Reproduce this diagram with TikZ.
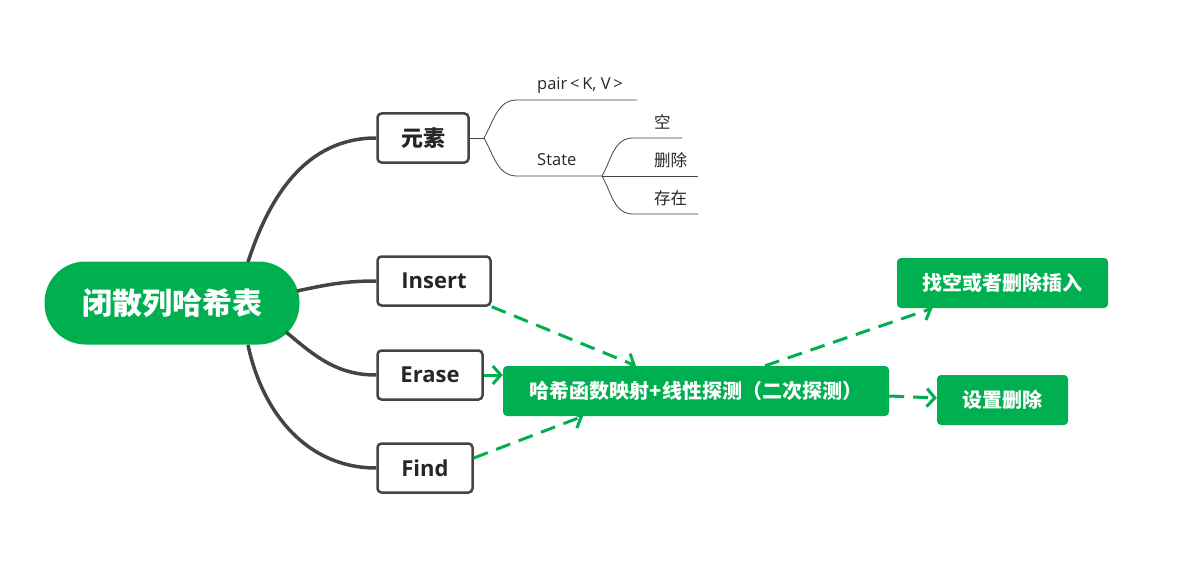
\documentclass[tikz,border=0pt]{standalone}
\usepackage{fontspec}
\setmainfont{Noto Sans CJK SC}
\newfontfamily\latinfont{Open Sans}
\usepackage{tikz}
\usetikzlibrary{arrows.meta}
\definecolor{mapgreen}{RGB}{0,176,80}
\definecolor{mapgray}{RGB}{68,68,68}

\begin{document}
\begin{tikzpicture}[x=1pt, y=1pt,
      rootnode/.style={fill=mapgreen, text=white, rounded corners=41pt, minimum width=255pt, minimum height=83pt, inner sep=0pt, font=\fontsize{30}{32}\selectfont\bfseries},
      topic/.style={draw=mapgray, line width=2.5pt, fill=white, rounded corners=4pt, minimum height=49pt, inner sep=0pt, text=black!85, font=\fontsize{22}{24}\selectfont\bfseries},
      greenbox/.style={fill=mapgreen, text=white, rounded corners=4pt, minimum height=50pt, inner sep=0pt, font=\fontsize{20}{22}\selectfont\bfseries},
      leaf/.style={inner sep=0pt, text=black!85, font=\fontsize{16.5}{18}\selectfont},
      branch/.style={draw=mapgray, line width=3.5pt},
      twig/.style={draw=mapgray, line width=0.8pt},
      flow/.style={draw=mapgreen, line width=3pt, dash pattern=on 15pt off 9pt, -{Straight Barb[length=8pt,width=18pt]}}]
      \useasboundingbox (0,0) rectangle (1193,-575);
      % root and topics
      \node at (172,-303)[rootnode] (root){闭散列哈希表};
      \node at (423,-138)[topic, minimum width=91pt] (elem){元素};
      \node at (434,-281)[topic, minimum width=113pt] (ins){\latinfont\bfseries Insert};
      \node at (430,-375)[topic, minimum width=105pt] (erase){\latinfont\bfseries Erase};
      \node at (425,-468)[topic, minimum width=95pt] (find){\latinfont\bfseries Find};
      \coordinate (r1) at (248,-262);
      \coordinate (r2) at (297,-291);
      \coordinate (r3) at (286,-332);
      \coordinate (r4) at (248,-345);
      \draw[branch] (r1) to[out=72,in=180] (elem.west);
      \draw[branch] (r2) to[out=12,in=180] (ins.west);
      \draw[branch] (r3) to[out=-40,in=180] (erase.west);
      \draw[branch] (r4) to[out=-78,in=180] (find.west);
      % element details
      \coordinate (ek) at (484,-138);
      \coordinate (pk) at (517,-100);
      \coordinate (pe) at (637,-100);
      \coordinate (sk) at (517,-176);
      \coordinate (se) at (602,-176);
      \coordinate (k1) at (633,-138);
      \coordinate (e1) at (682,-138);
      \coordinate (e2) at (698,-176);
      \coordinate (k3) at (633,-214);
      \coordinate (e3) at (698,-214);
      \node at (537,-85)[leaf, anchor=west] (pair){\latinfont pair\,<\,K, V\,>};
      \node at (537,-160)[leaf, anchor=west] (state){\latinfont State};
      \node at (654,-122)[leaf, anchor=west] (empty){空};
      \node at (654,-160)[leaf, anchor=west] (deleted){删除};
      \node at (654,-198)[leaf, anchor=west] (exist){存在};
      \draw[twig] (elem.east) -- (ek);
      \draw[twig] (ek) to[out=60,in=180] (pk) -- (pe);
      \draw[twig] (ek) to[out=-60,in=180] (sk) -- (se);
      \draw[twig] (se) to[out=60,in=180] (k1) -- (e1);
      \draw[twig] (se) -- (e2);
      \draw[twig] (se) to[out=-60,in=180] (k3) -- (e3);
      % probing
      \node at (696,-391)[greenbox, minimum width=386pt] (hashmap){哈希函数映射+线性探测（二次探测）};
      \node at (1002.5,-283)[greenbox, minimum width=211pt] (insfound){找空或者删除插入};
      \node at (1002.5,-400)[greenbox, minimum width=131pt] (setdel){设置删除};
      \draw[flow] (ins.south east) -- ([xshift=-60pt]hashmap.north);
      \draw[flow] (erase.east) -- (hashmap.west |- erase.east);
      \draw[flow] ([yshift=10pt]find.east) -- ([xshift=-113pt]hashmap.south);
      \draw[flow] ([xshift=69pt]hashmap.north) -- ([xshift=-70pt]insfound.south);
      \draw[flow] ([yshift=-5pt]hashmap.east) -- ([yshift=2pt]setdel.west);
\end{tikzpicture}
\end{document}
